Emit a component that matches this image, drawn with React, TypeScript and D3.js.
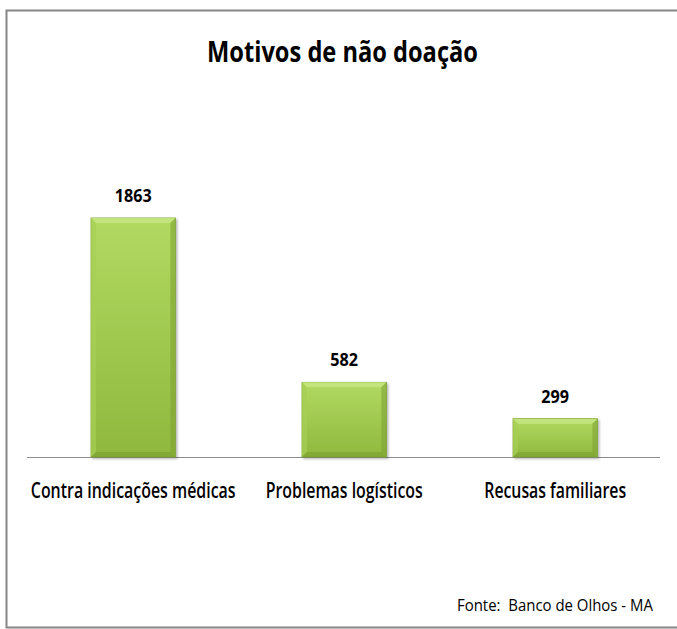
import React, { useLayoutEffect, useRef } from "react";
import * as d3 from "d3";

const categories = ["Contra indicações médicas", "Problemas logísticos", "Recusas familiares"];
const values = [1863, 582, 299];
const labelWidths = [205, 157, 142];
const title = "Motivos de não doação";
const source = "Fonte:  Banco de Olhos - MA";

const W = 677;
const H = 629;
const FONT = "'Open Sans', 'Liberation Sans', sans-serif";

export default function App() {
  const ref = useRef<SVGSVGElement>(null);
  const x = d3.scaleBand<string>().domain(categories).range([27.7, 660.7]).paddingInner(0.6).paddingOuter(0.3);
  const y = d3.scaleLinear().domain([0, 2000]).range([457, 200.4]);
  const bw = x.bandwidth();
  const bev = 5;

  useLayoutEffect(() => {
    if (!ref.current) return;
    d3.select(ref.current)
      .selectAll<SVGTextElement, unknown>("text[data-w]")
      .each(function () {
        const el = this;
        const target = +el.getAttribute("data-w")!;
        const cx = +el.getAttribute("data-x")!;
        const cy = +el.getAttribute("data-y")!;
        const anchor = el.getAttribute("text-anchor");
        const len = el.getComputedTextLength();
        const s = len > 0 ? target / len : 1;
        el.setAttribute("x", "0");
        el.setAttribute("y", "0");
        el.setAttribute("transform", `translate(${cx},${cy}) scale(${s},1)`);
        void anchor;
      });
  }, []);

  const T = (props: { x: number; y: number; w: number; size: number; weight?: string; anchor?: string; children: string }) => (
    <text
      x={props.x}
      y={props.y}
      data-x={props.x}
      data-y={props.y}
      data-w={props.w}
      textAnchor={props.anchor || "middle"}
      fontFamily={FONT}
      fontWeight={props.weight || "normal"}
      fontSize={props.size}
      fill="#000"
      style={{ whiteSpace: "pre" }}
    >
      {props.children}
    </text>
  );

  return (
    <div style={{ position: "absolute", left: 0, top: 0 }}>
      <svg ref={ref} width={W} height={H} style={{ display: "block" }}>
        <defs>
          <linearGradient id="barG" x1="0" y1="0" x2="0" y2="1">
            <stop offset="0" stopColor="#b2da62" />
            <stop offset="1" stopColor="#8fb83e" />
          </linearGradient>
          <filter id="sh" x="-10%" y="-10%" width="130%" height="130%">
            <feDropShadow dx="1.5" dy="1.5" stdDeviation="1.2" floodColor="#000" floodOpacity="0.3" />
          </filter>
        </defs>
        <rect x={0} y={0} width={W} height={H} fill="#fff" />
        <rect x={6.5} y={10.5} width={W + 10} height={617} fill="#fff" stroke="#868686" strokeWidth={2} />
        <T x={342.5} y={62} w={271} size={28} weight="bold">{title}</T>
        <line x1={27} x2={660} y1={457.5} y2={457.5} stroke="#8c8c8c" strokeWidth={1} />
        {categories.map((c, i) => {
          const x0 = x(c)!;
          const y0 = y(values[i]);
          const h = y(0) - y0;
          return (
            <g key={c}>
              <rect x={x0} y={y0} width={bw} height={h} fill="url(#barG)" stroke="#7fa336" strokeWidth={0.8} filter="url(#sh)" />
              <polygon points={`${x0},${y0} ${x0 + bw},${y0} ${x0 + bw - bev},${y0 + bev} ${x0 + bev},${y0 + bev}`} fill="#c8e784" opacity={0.8} />
              <polygon points={`${x0},${y0} ${x0 + bev},${y0 + bev} ${x0 + bev},${y0 + h - bev} ${x0},${y0 + h}`} fill="#a6cf55" opacity={0.7} />
              <polygon points={`${x0 + bw},${y0} ${x0 + bw - bev},${y0 + bev} ${x0 + bw - bev},${y0 + h - bev} ${x0 + bw},${y0 + h}`} fill="#7ea433" opacity={0.6} />
              <polygon points={`${x0},${y0 + h} ${x0 + bev},${y0 + h - bev} ${x0 + bw - bev},${y0 + h - bev} ${x0 + bw},${y0 + h}`} fill="#7a9e30" opacity={0.6} />
              <T x={x0 + bw / 2} y={y0 - 16} w={String(values[i]).length * 9.25} size={18} weight="bold">{String(values[i])}</T>
              <T x={x0 + bw / 2} y={498} w={labelWidths[i]} size={21} weight="600">{c}</T>
            </g>
          );
        })}
        <T x={457} y={611} w={196} size={17} anchor="start">{source}</T>
      </svg>
    </div>
  );
}
